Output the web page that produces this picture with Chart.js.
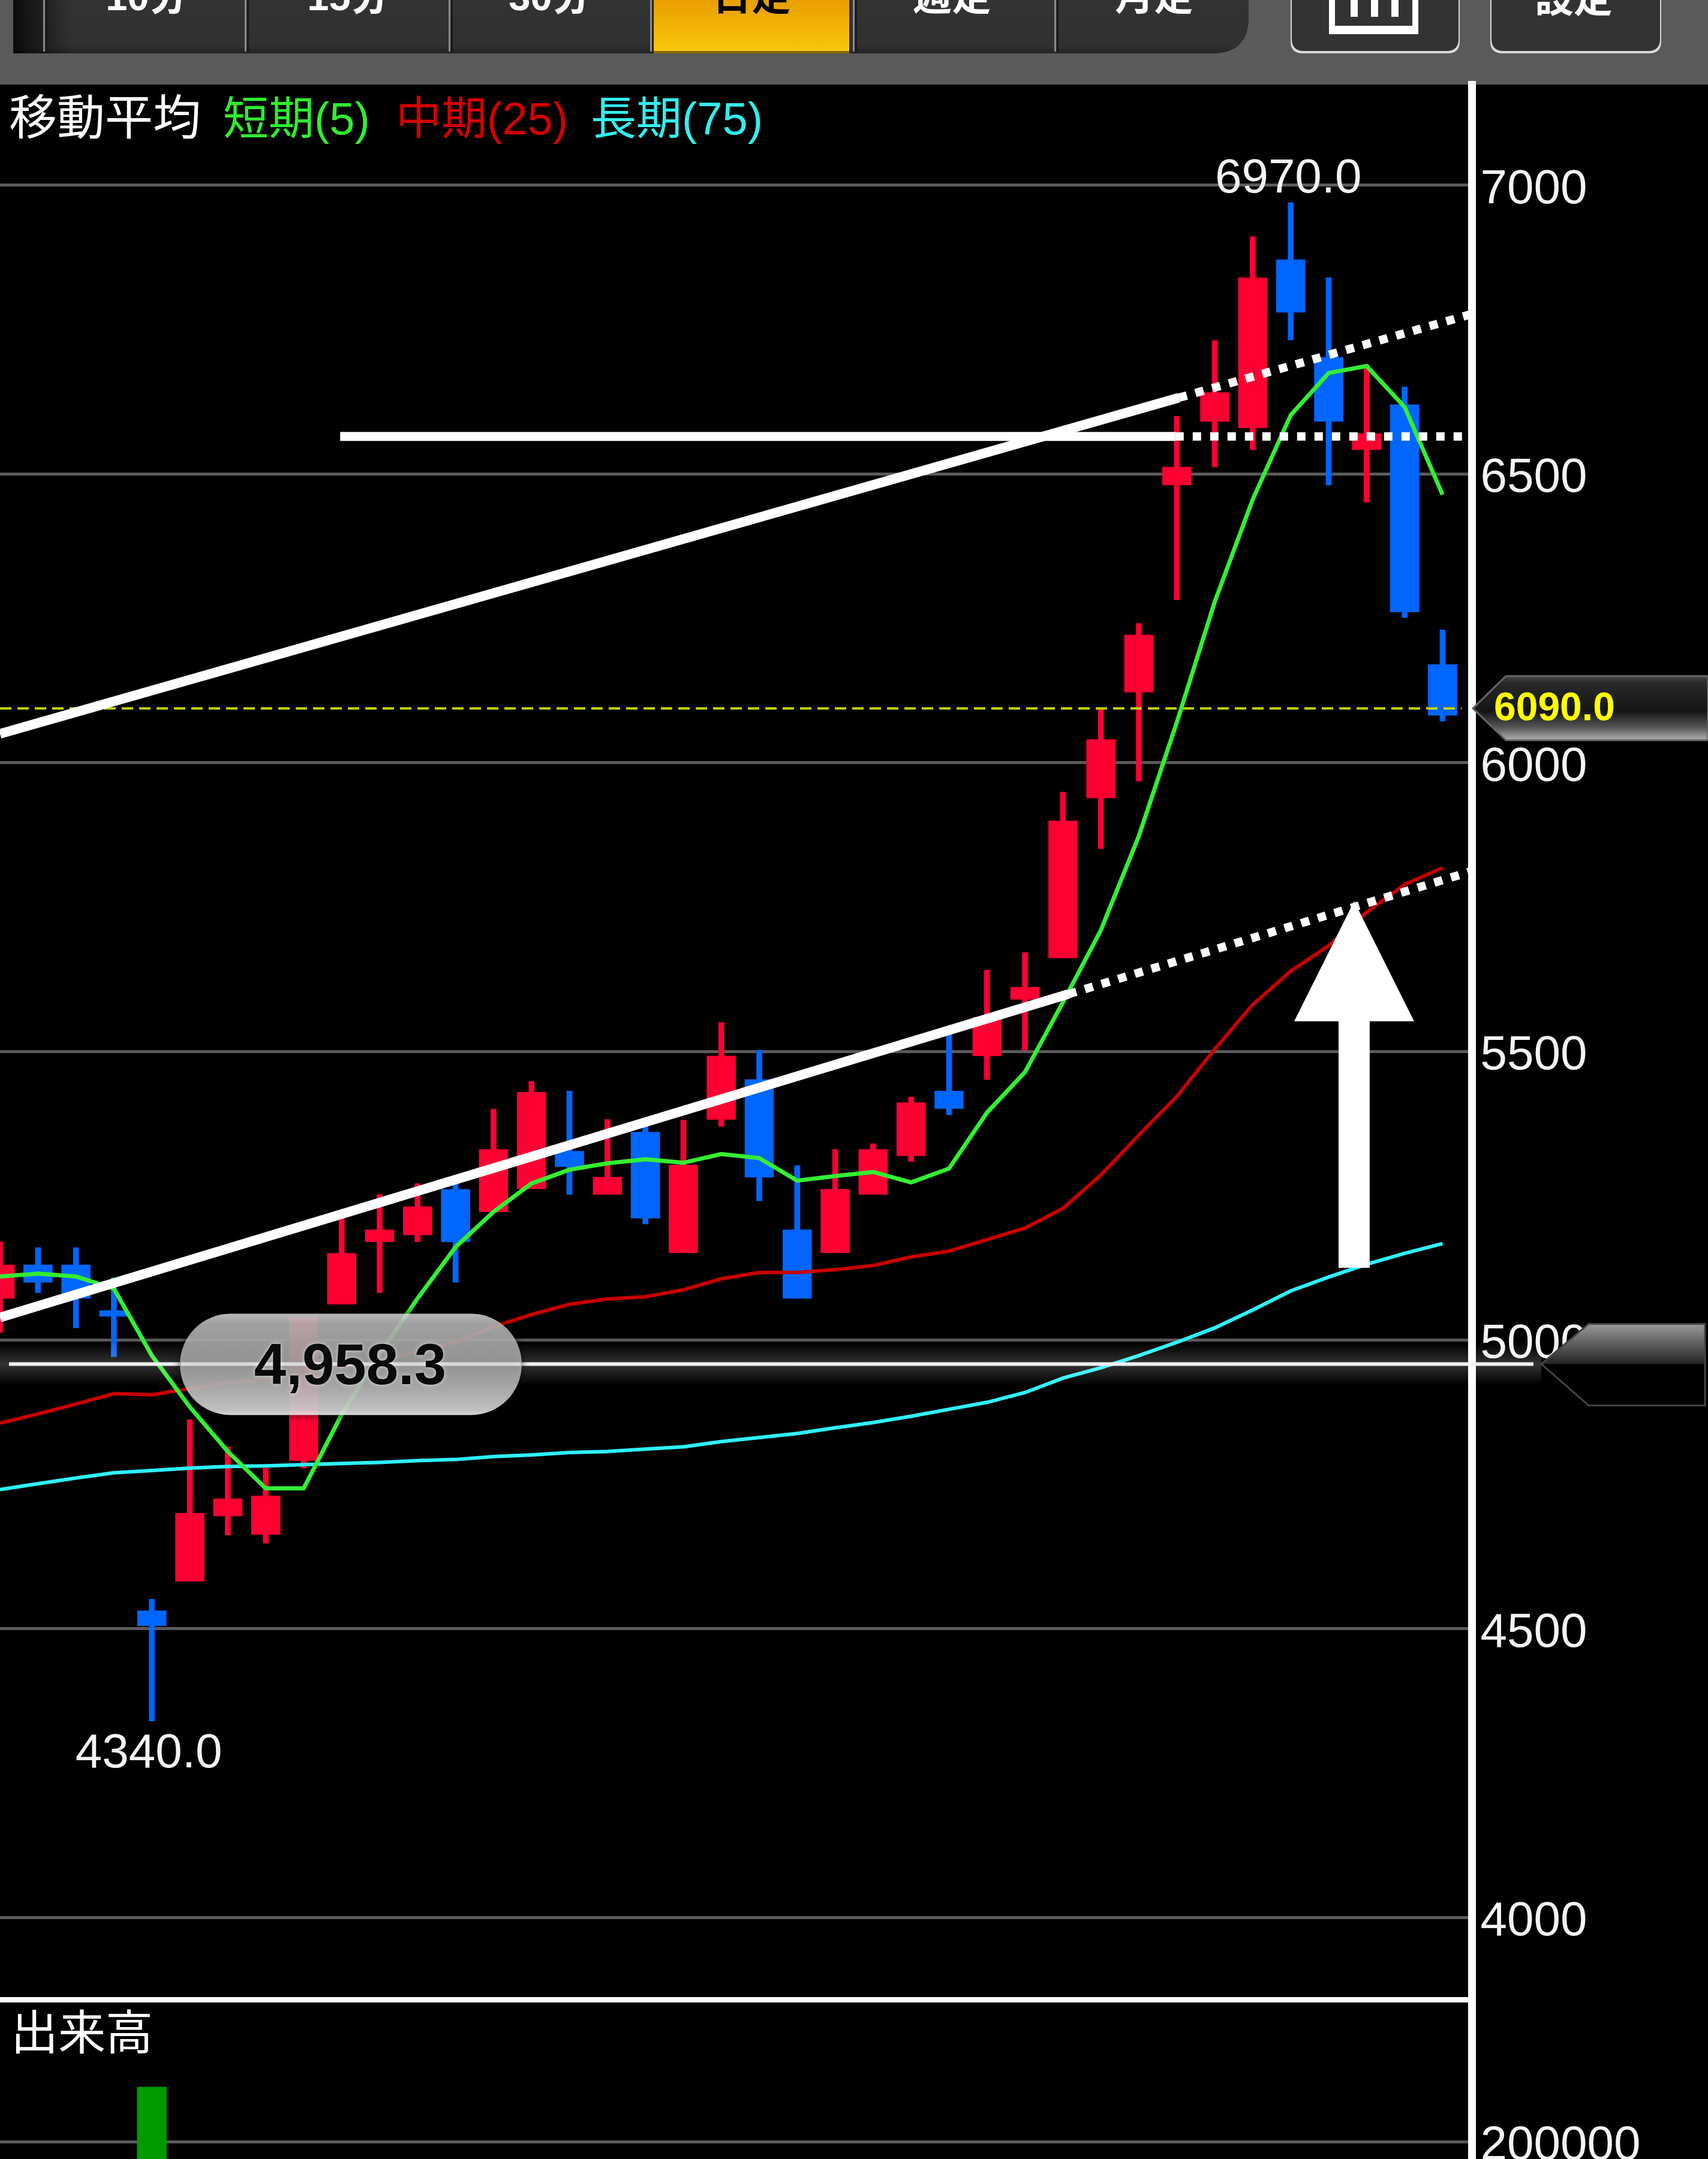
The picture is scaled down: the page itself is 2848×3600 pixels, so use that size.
<!DOCTYPE html>
<html lang="ja">
<head>
<meta charset="utf-8">
<title>日足チャート</title>
<script src="https://cdn.jsdelivr.net/npm/chart.js@4"></script>
<style>
html,body{margin:0;padding:0;background:#000;}
canvas{display:block;}
</style>
</head>
<body>
<canvas id="c" width="2848" height="3600" style="width:2848px;height:3600px"></canvas>
<script>
// ---- data ----
const priceTicks = [7000,6500,6000,5500,5000,4500,4000];
const volumeTicks = [200000];
const opens  = [5072,5130,5130,5051,4531,4582,4695,4663,4791,5062,5170,5182,5261,5222,5262,5327,5252,5360,5151,5382,5451,5191,5151,5252,5319,5431,5492,5590,5662,5939,6122,6481,6591,6580,6871,6702,6542,6620,6170];
const highs  = [5170,5160,5160,5108,4551,4862,4815,4778,5039,5211,5252,5271,5270,5400,5448,5431,5382,5370,5381,5550,5502,5302,5330,5340,5421,5540,5641,5671,5949,6093,6241,6600,6731,6911,6970,6840,6689,6651,6230];
const lows   = [5013,5082,5021,4971,4340,4582,4662,4648,4778,5062,5082,5170,5100,5222,5262,5252,5252,5201,5151,5370,5241,5072,5151,5252,5309,5390,5451,5502,5662,5851,5968,6282,6512,6542,6732,6481,6451,6251,6072];
const closes = [5130,5100,5072,5041,4505,4700,4725,4730,5039,5150,5191,5231,5170,5330,5429,5300,5282,5211,5303,5492,5282,5072,5261,5330,5411,5401,5559,5611,5899,6040,6221,6512,6641,6840,6780,6591,6570,6261,6082];
const maShort = [5110,5115,5110,5089,4973,4884,4807,4743,4743,4871,4976,5072,5161,5222,5271,5295,5306,5313,5307,5322,5315,5276,5284,5291,5273,5297,5394,5464,5585,5710,5873,6070,6279,6456,6602,6675,6687,6616,6464];
const maMid   = [4856,4872,4889,4907,4905,4916,4926,4932,4943,4952,4963,4980,4996,5023,5044,5062,5071,5075,5087,5106,5117,5117,5122,5129,5144,5154,5174,5194,5228,5286,5355,5422,5504,5581,5639,5683,5741,5789,5818];
const maLong  = [4741,4751,4761,4770,4774,4778,4781,4782,4784,4786,4788,4791,4793,4798,4801,4805,4807,4811,4815,4824,4831,4838,4848,4857,4868,4880,4892,4909,4934,4952,4973,4996,5021,5052,5085,5109,5131,5150,5167];
const volumeIndex = [4];
const volumeValues = [300000];
const upperTrendSolid  = [[0,6050],[31.05,6632]];
const upperTrendDotted = [[31.05,6632],[38.77,6777]];
const lowerTrendSolid  = [[0,5039],[28.14,5599]];
const lowerTrendDotted = [[28.14,5599],[38.77,5812]];
const levelSolid  = [[8.96,6565],[30.96,6565]];
const levelDotted = [[30.96,6565],[38.77,6565]];
const currentLine = [[0,6094],[38.5,6094]];
const crosshairValue = 4958.3;
const currentPrice = 6090;
const highLabel = {i:34, v:6970, t:'6970.0'};
const lowLabel = {i:4, v:4340, t:'4340.0'};
const tabs = ['10分','15分','30分','日足','週足','月足'];
const legendParts = [['移動平均','#ffffff',80],['短期(5)','#2eee2e',76],['中期(25)','#d40000',76],['長期(75)','#33eeee',76]];
const volumeTitle = '出来高';

// ---- style ----
const RED='#ff0033', BLUE='#0066ff';
const FONT='"Liberation Sans","Noto Sans CJK JP",sans-serif';
const idx = opens.map((_,i)=>i);
const colors = idx.map(i=>closes[i]>=opens[i]?RED:BLUE);
const pts = a=>a.map(p=>({x:p[0],y:p[1]}));
const ser = a=>a.map((v,i)=>({x:i,y:v}));
const line=(label,data,color,width,order,dash)=>({type:'line',label,data,borderColor:color,borderWidth:width,pointRadius:0,tension:0,fill:false,order,yAxisID:'y',borderDash:dash||[],borderCapStyle:'butt',borderJoinStyle:'miter'});

function roundRectBottom(ctx,x,y,w,h,r){
  ctx.beginPath();
  ctx.moveTo(x,y);ctx.lineTo(x+w,y);ctx.lineTo(x+w,y+h-r);
  ctx.quadraticCurveTo(x+w,y+h,x+w-r,y+h);
  ctx.lineTo(x+(r>30?0:r),y+h);
  if(r<=30)ctx.quadraticCurveTo(x,y+h,x,y+h-r);
  ctx.closePath();
}

const chrome={
  id:'chrome',
  afterLayout(chart){
    // the zero-width volume axis shares the label column of the price axis
    chart.scales.yV.right=2848;
  },
  beforeDraw(chart){
    const ctx=chart.ctx;
    ctx.save();
    ctx.fillStyle='#000';ctx.fillRect(0,0,2848,3600);
    ctx.fillStyle='#5a5a5a';ctx.fillRect(0,0,2848,141);
    // tab bar
    roundRectBottom(ctx,22,-4,2060,93,60);
    let g=ctx.createLinearGradient(0,0,0,90);
    g.addColorStop(0,'#333333');g.addColorStop(.85,'#303030');g.addColorStop(1,'#222222');
    ctx.fillStyle=g;ctx.fill();
    g=ctx.createLinearGradient(22,0,120,0);
    g.addColorStop(0,'rgba(0,0,0,.75)');g.addColorStop(1,'rgba(0,0,0,0)');
    ctx.fillStyle=g;ctx.fillRect(22,0,100,89);
    ctx.fillStyle='#8a8a8a';
    [72,408,748,1084,1422,1758].forEach(x=>ctx.fillRect(x,0,3,86));
    ctx.fillStyle='#1a1a1a';
    [76,412,752,1088,1426,1762].forEach(x=>ctx.fillRect(x,0,3,86));
    // selected tab
    g=ctx.createLinearGradient(0,0,0,89);
    g.addColorStop(0,'#e89e00');g.addColorStop(1,'#fcca08');
    ctx.fillStyle=g;ctx.fillRect(1090,0,326,89);
    ctx.fillStyle='#8a6a00';ctx.fillRect(1090,85,326,4);
    // tab labels
    ctx.font='bold 65px '+FONT;ctx.textAlign='center';ctx.textBaseline='alphabetic';
    [245,581,917,1253,1587,1924].forEach((x,i)=>{
      ctx.fillStyle=i===3?'#000':'#fff';
      ctx.fillText(tabs[i],x,17);
    });
    // buttons
    [[2152,282],[2485,285]].forEach(b=>{
      roundRectBottom(ctx,b[0],-4,b[1],93,20);
      ctx.fillStyle='#d8d8d8';ctx.fill();
      roundRectBottom(ctx,b[0]+2,-4,b[1]-4,89,20);
      ctx.fillStyle='#333333';ctx.fill();
    });
    ctx.fillStyle='#fff';
    ctx.fillRect(2216,0,10,57);ctx.fillRect(2355,0,10,57);ctx.fillRect(2216,43,149,14);
    ctx.fillRect(2252,0,12,28);ctx.fillRect(2286,0,12,28);ctx.fillRect(2320,0,12,28);
    ctx.fillText('設定',2624,20);
    // legend
    ctx.textAlign='left';
    const lx=[15,372,660,985];
    legendParts.forEach((p,i)=>{ctx.font=p[2]+'px '+FONT;ctx.fillStyle=p[1];ctx.fillText(p[0],lx[i],224);});
    ctx.restore();
  },
  afterDatasetsDraw(chart){
    const ctx=chart.ctx, X=chart.scales.x, Y=chart.scales.y;
    ctx.save();
    // pane separator and pane title
    ctx.fillStyle='#fff';ctx.fillRect(0,3330,2448,9);
    ctx.font='79px '+FONT;ctx.textAlign='left';ctx.textBaseline='alphabetic';
    ctx.fillText(volumeTitle,18,3418);
    // high / low labels
    ctx.font='80px "Liberation Sans",sans-serif';ctx.textAlign='center';ctx.textBaseline='middle';
    ctx.fillStyle='#f4f4f4';
    ctx.fillText(highLabel.t,X.getPixelForValue(highLabel.i)-4,Y.getPixelForValue(highLabel.v)-39);
    ctx.fillText(lowLabel.t,X.getPixelForValue(lowLabel.i)-5,Y.getPixelForValue(lowLabel.v)+55);
    // arrow
    const ax=35.67, tip=5760, neck=5552, foot=5125, hw=1.58, sw=0.41;
    ctx.fillStyle='#fff';ctx.beginPath();
    const P=(a,b)=>[X.getPixelForValue(a),Y.getPixelForValue(b)];
    [[ax,tip],[ax+hw,neck],[ax+sw,neck],[ax+sw,foot],[ax-sw,foot],[ax-sw,neck],[ax-hw,neck]].forEach((q,n)=>{
      const p=P(q[0],q[1]);n?ctx.lineTo(p[0],p[1]):ctx.moveTo(p[0],p[1]);
    });
    ctx.closePath();ctx.fill();
    // current price tag
    const cy=Y.getPixelForValue(currentLine[0][1]);
    ctx.beginPath();ctx.moveTo(2456,cy);ctx.lineTo(2511,cy-54);ctx.lineTo(2848,cy-54);ctx.lineTo(2848,cy+53);ctx.lineTo(2511,cy+53);ctx.closePath();
    let g=ctx.createLinearGradient(0,cy-54,0,cy+53);
    g.addColorStop(0,'#4a4a4a');g.addColorStop(.1,'#2a2a2a');g.addColorStop(.55,'#141414');g.addColorStop(.8,'#555');g.addColorStop(1,'#b0b0b0');
    ctx.fillStyle=g;ctx.fill();
    ctx.strokeStyle='#666';ctx.lineWidth=3;ctx.stroke();
    ctx.fillStyle='#ffff00';ctx.font='bold 66px "Liberation Sans",sans-serif';ctx.textAlign='left';
    ctx.fillText(currentPrice.toFixed(1),2491,cy+2);
    // crosshair band and line
    const hy=Y.getPixelForValue(crosshairValue);
    g=ctx.createLinearGradient(0,hy-36,0,hy+36);
    g.addColorStop(0,'rgba(255,255,255,0)');g.addColorStop(.5,'rgba(255,255,255,.2)');g.addColorStop(1,'rgba(255,255,255,0)');
    ctx.fillStyle=g;ctx.fillRect(0,hy-36,2570,72);
    ctx.fillStyle='#f0f0f0';ctx.fillRect(15,hy-3,2542,6);
    // crosshair tag
    const tx=2570,sx=2649,rx=2843,tt=hy-67,tb=hy+69;
    ctx.beginPath();ctx.moveTo(tx,hy);ctx.lineTo(sx,tb);ctx.lineTo(rx,tb);ctx.lineTo(rx,tt);ctx.lineTo(sx,tt);ctx.closePath();
    ctx.fillStyle='#000';ctx.fill();
    ctx.beginPath();ctx.moveTo(tx,hy);ctx.lineTo(sx,tt);ctx.lineTo(rx,tt);ctx.lineTo(rx,hy);ctx.closePath();
    g=ctx.createLinearGradient(0,tt,0,hy);
    g.addColorStop(0,'rgba(170,170,170,.9)');g.addColorStop(1,'rgba(40,40,40,.9)');
    ctx.fillStyle=g;ctx.fill();
    ctx.beginPath();ctx.moveTo(tx,hy);ctx.lineTo(sx,tb);ctx.lineTo(rx,tb);ctx.lineTo(rx,tt);ctx.lineTo(sx,tt);ctx.closePath();
    ctx.strokeStyle='#444';ctx.lineWidth=3;ctx.stroke();
    // value pill
    const px=300,pw=570,pt=hy-84,ph=169;
    ctx.save();
    ctx.shadowColor='rgba(0,0,0,.9)';ctx.shadowBlur=14;
    ctx.beginPath();ctx.roundRect(px,pt,pw,ph,ph/2);
    g=ctx.createLinearGradient(0,pt,0,pt+ph);
    g.addColorStop(0,'rgba(245,245,245,.75)');g.addColorStop(.1,'rgba(215,215,215,.75)');g.addColorStop(.5,'rgba(190,190,190,.75)');g.addColorStop(.95,'rgba(240,240,240,.8)');g.addColorStop(1,'rgba(250,250,250,.85)');
    ctx.fillStyle=g;ctx.fill();
    ctx.restore();
    ctx.fillStyle='rgba(240,240,240,.7)';ctx.fillRect(px+2,hy-3,pw-4,6);
    ctx.save();
    ctx.shadowColor='rgba(255,255,255,.7)';ctx.shadowBlur=6;
    ctx.fillStyle='#0a0a0a';ctx.font='bold 96px "Liberation Sans",sans-serif';ctx.textAlign='center';ctx.textBaseline='middle';
    ctx.fillText(crosshairValue.toLocaleString('en-US',{minimumFractionDigits:1}),584,hy+7);
    ctx.restore();
    ctx.restore();
  }
};

// the second (blank first) line nudges each label below its grid line, as in the reference
const tickFont={family:'"Liberation Sans",sans-serif',size:80,lineHeight:'16px'};
const tickLabel=v=>['',String(v)];
new Chart(document.getElementById('c'),{
  data:{datasets:[
    {type:'bar',label:'出来高',yAxisID:'yV',data:volumeIndex.map((x,n)=>({x,y:volumeValues[n]})),backgroundColor:'#009900',barThickness:49,grouped:false,order:20},
    {type:'bar',label:'ヒゲ',yAxisID:'y',data:idx.map(i=>({x:i,y:[lows[i],highs[i]]})),backgroundColor:colors,barThickness:9,grouped:false,order:12},
    {type:'bar',label:'実体',yAxisID:'y',data:idx.map(i=>({x:i,y:[Math.min(opens[i],closes[i]),Math.max(opens[i],closes[i])]})),backgroundColor:colors,barThickness:48,grouped:false,order:11},
    line('現在値',pts(currentLine),'#c4d400',4,10,[19,10]),
    line('長期(75)',ser(maLong),'#2ef2ff',6,9),
    line('中期(25)',ser(maMid),'#c80000',6,8),
    line('短期(5)',ser(maShort),'#33ee33',7,7),
    line('level',pts(levelSolid),'#ffffff',15,6),
    line('levelDotted',pts(levelDotted),'#ffffff',14,5,[14,15]),
    line('upper',pts(upperTrendSolid),'#ffffff',16,4),
    line('upperDotted',pts(upperTrendDotted),'#ffffff',14,3,[14,15]),
    line('lower',pts(lowerTrendSolid),'#ffffff',16,2),
    line('lowerDotted',pts(lowerTrendDotted),'#ffffff',14,1,[14,15])
  ]},
  options:{
    responsive:false,devicePixelRatio:1,animation:false,
    layout:{padding:{top:141,left:0,right:0,bottom:0}},
    plugins:{legend:{display:false},tooltip:{enabled:false},title:{display:false}},
    scales:{
      x:{type:'linear',display:false,offset:false,min:0,max:38.775,grid:{display:false}},
      yV:{type:'linear',position:'right',weight:0,min:168132,max:3969231,
        afterFit(s){s.width=0;s.paddingTop=0;s.paddingBottom=0;},
        afterBuildTicks(s){s.ticks=volumeTicks.map(value=>({value}));},
        grid:{color:'#5a5a5a',lineWidth:5,drawTicks:false},
        border:{display:false},
        ticks:{autoSkip:false,padding:14,color:'#f4f4f4',font:tickFont,callback:tickLabel,maxRotation:0}
      },
      y:{type:'linear',position:'right',weight:1,min:3581.4,max:7174.5,
        afterFit(s){s.width=393.5;s.paddingTop=0;s.paddingBottom=0;},
        afterBuildTicks(s){s.ticks=priceTicks.map(value=>({value}));},
        grid:{color:'#5a5a5a',lineWidth:5,drawTicks:false},
        border:{display:true,color:'#ffffff',width:13},
        ticks:{autoSkip:false,padding:14,color:'#f4f4f4',font:tickFont,callback:tickLabel,maxRotation:0}
      }
    }
  },
  plugins:[chrome]
});
</script>
</body>
</html>
